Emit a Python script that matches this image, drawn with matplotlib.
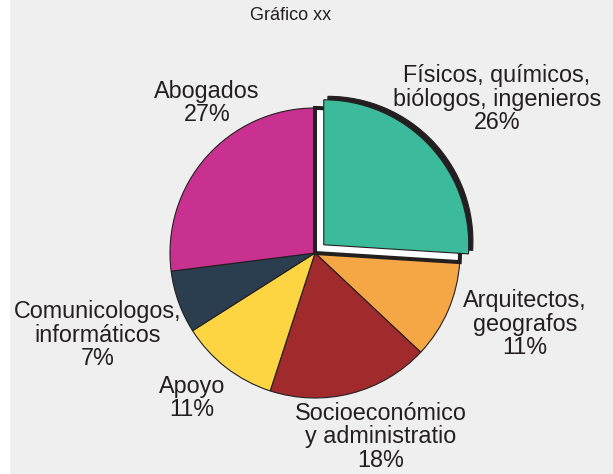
#!/usr/bin/env python3

"""
Gráfico xx - distribución por profesión (pie con sector destacado)
"""

import matplotlib
matplotlib.use("Agg")
import matplotlib.pyplot as plt
from matplotlib.patches import Shadow, Rectangle

# Datos
labels = ["Físicos, químicos,\nbiólogos, ingenieros", "Arquitectos,\ngeografos",
          "Socioeconómico\ny administratio", "Apoyo",
          "Comunicologos,\ninformáticos", "Abogados"]
shares = [26, 11, 18, 11, 7, 27]
colors = ["#3cbb9c", "#f4a744", "#a12b2c", "#fdd542", "#2a3e50", "#c8318f"]
explode = [12, 0, 0, 0, 0, 0]

# Posiciones de las etiquetas (pixeles, origen arriba a la izquierda)
label_pos = [(497, 99), (525, 324), (381, 437), (192, 398), (98, 335), (207, 103)]

W, H = 613, 474
CX, CY, R = 315, 253, 145
EDGE = "#231f20"


def create_plot():
    fig = plt.figure(figsize=(W / 100, H / 100), dpi=100, facecolor="#efefef")
    fig.add_artist(Rectangle((0, 0), 9 / W, 1, transform=fig.transFigure,
                             color="white", zorder=0))
    ax = fig.add_axes([0, 0, 1, 1])
    ax.set_xlim(0, W)
    ax.set_ylim(0, H)
    ax.set_aspect("equal")
    ax.axis("off")

    center = (CX, H - CY)

    # Hueco donde estaba el sector destacado
    hole, _ = ax.pie(shares, startangle=90, counterclock=False, center=center,
                     radius=R, colors=["white"] * len(shares), frame=True,
                     wedgeprops=dict(edgecolor=EDGE, linewidth=2.9))
    for w in hole[1:]:
        w.set_visible(False)
    hole[0].set_zorder(2)

    # Pie principal
    wedges, _ = ax.pie(shares, startangle=90, counterclock=False, center=center,
                       radius=R, colors=colors, explode=explode, frame=True,
                       wedgeprops=dict(edgecolor=EDGE, linewidth=0.8))
    for w in wedges:
        w.set_zorder(1)
    wedges[0].set_zorder(4)

    # Sombra del sector destacado
    sh = Shadow(wedges[0], 3, 2.5, facecolor=EDGE, edgecolor=EDGE, alpha=1, zorder=3)
    ax.add_patch(sh)

    ax.set_xlim(0, W)
    ax.set_ylim(0, H)
    ax.axis("off")

    # Etiquetas
    for lab, s, (x, y) in zip(labels, shares, label_pos):
        ax.text(x, H - y, f"{lab}\n{s}%", ha="center", va="center",
                fontsize=16.8, family="Liberation Sans", color="#231f20",
                linespacing=1.02, zorder=5)

    fig.text(291 / W, 1 - 16 / H, "Gráfico xx", ha="center", va="center",
             fontsize=13, family="Liberation Sans", color="#231f20")

    fig.savefig("out.png", dpi=100, facecolor=fig.get_facecolor())


def main():
    create_plot()


if __name__ == "__main__":
    main()
